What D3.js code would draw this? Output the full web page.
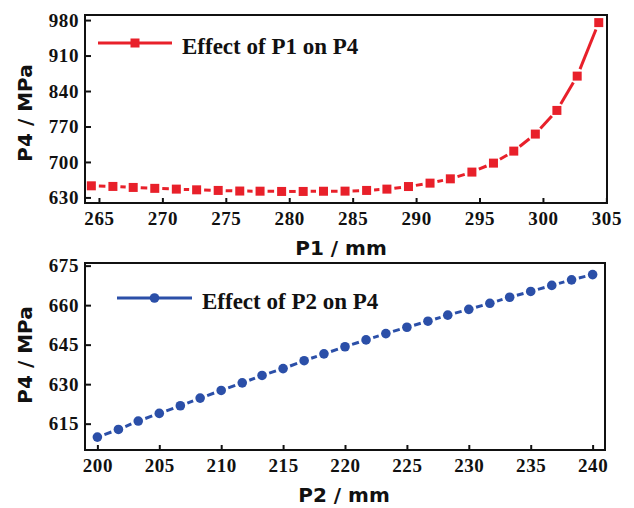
<!DOCTYPE html>
<html>
<head>
<meta charset="utf-8">
<script src="https://cdn.jsdelivr.net/npm/d3@7"></script>
<style>
  body { margin: 0; background: #fff; }
  svg { display: block; }
</style>
</head>
<body>
<svg width="634" height="508"></svg>
<script>
// panel 1 : effect of P1 on P4
const p1Values = [264.4, 266.1, 267.7, 269.4, 271.1, 272.7, 274.4, 276.1, 277.7, 279.4, 281.1, 282.7, 284.4,
  286.1, 287.7, 289.4, 291.1, 292.7, 294.4, 296.1, 297.7, 299.4, 301.1, 302.7, 304.4];
const p4FromP1 = [652.9, 651.7, 649.7, 647.9, 646.4, 645.0, 643.8, 642.6, 642.3, 641.8, 641.8, 642.2, 642.4,
  643.8, 646.4, 651.5, 658.2, 666.7, 680.0, 697.7, 721.4, 755.0, 801.7, 869.4, 975.0];
const p1Ticks = [265, 270, 275, 280, 285, 290, 295, 300, 305];
const p4TicksTop = [630, 700, 770, 840, 910, 980];

// panel 2 : effect of P2 on P4
const p2Values = [200, 201.7, 203.3, 205, 206.7, 208.3, 210, 211.7, 213.3, 215, 216.7, 218.3, 220,
  221.7, 223.3, 225, 226.7, 228.3, 230, 231.7, 233.3, 235, 236.7, 238.3, 240];
const p4FromP2 = [609.9, 612.8, 616.0, 618.9, 621.8, 624.7, 627.6, 630.5, 633.3, 635.9, 638.9, 641.5, 644.2,
  646.8, 649.2, 651.6, 653.9, 656.2, 658.4, 660.7, 663.0, 665.2, 667.5, 669.6, 671.6];
const p2Ticks = [200, 205, 210, 215, 220, 225, 230, 235, 240];
const p4TicksBottom = [615, 630, 645, 660, 675];

const svg = d3.select('svg');

function drawPanel(cfg) {
  const x = d3.scaleLinear().domain(cfg.xDomain).range([cfg.left, cfg.right]);
  const y = d3.scaleLinear().domain(cfg.yDomain).range([cfg.bottom, cfg.top]);
  const data = cfg.xs.map((v, i) => ({ x: v, y: cfg.ys[i] }));
  const g = svg.append('g');

  // line segments with a gap next to each symbol (Origin style)
  const gap = 7.5;
  const segs = [];
  for (let i = 0; i < data.length - 1; i++) {
    const x0 = x(data[i].x), y0 = y(data[i].y);
    const x1 = x(data[i + 1].x), y1 = y(data[i + 1].y);
    const len = Math.hypot(x1 - x0, y1 - y0);
    if (len <= gap * 2) continue;
    const ux = (x1 - x0) / len, uy = (y1 - y0) / len;
    segs.push([x0 + ux * gap, y0 + uy * gap, x1 - ux * gap, y1 - uy * gap]);
  }
  g.selectAll('line.seg')
    .data(segs)
    .enter().append('line')
      .attr('class', 'seg')
      .attr('x1', d => d[0]).attr('y1', d => d[1])
      .attr('x2', d => d[2]).attr('y2', d => d[3])
      .style('stroke', cfg.color)
      .style('stroke-width', 3);

  // symbols
  if (cfg.symbol === 'square') {
    g.selectAll('rect.pt')
      .data(data)
      .enter().append('rect')
        .attr('class', 'pt')
        .attr('x', d => x(d.x) - 4.5)
        .attr('y', d => y(d.y) - 4.5)
        .attr('width', 9)
        .attr('height', 9)
        .style('fill', cfg.color);
  } else {
    g.selectAll('circle.pt')
      .data(data)
      .enter().append('circle')
        .attr('class', 'pt')
        .attr('cx', d => x(d.x))
        .attr('cy', d => y(d.y))
        .attr('r', 4.8)
        .style('fill', cfg.color);
  }

  // axes, ticks pointing inward
  const xAxis = d3.axisBottom(x).tickValues(cfg.xTicks).tickSizeInner(-5).tickSizeOuter(0).tickPadding(9);
  const yAxis = d3.axisLeft(y).tickValues(cfg.yTicks).tickSizeInner(-6).tickSizeOuter(0).tickPadding(6);

  [
    g.append('g').attr('transform', 'translate(0,' + cfg.bottom + ')').call(xAxis),
    g.append('g').attr('transform', 'translate(' + cfg.left + ',0)').call(yAxis)
  ].forEach(a => {
    a.select('.domain').remove();
    a.selectAll('line').style('stroke', '#111').style('stroke-width', 2);
    a.selectAll('text')
      .style('font-family', '"Liberation Serif", "Times New Roman", serif')
      .style('font-weight', 'bold')
      .style('font-size', '19px')
      .style('letter-spacing', '0.6px')
      .style('fill', '#111');
  });

  // frame
  g.append('rect')
    .attr('x', cfg.left)
    .attr('y', cfg.top)
    .attr('width', cfg.right - cfg.left)
    .attr('height', cfg.bottom - cfg.top)
    .style('fill', 'none')
    .style('stroke', '#111')
    .style('stroke-width', 2);

  // axis titles
  g.append('text')
    .attr('x', cfg.xTitlePos[0])
    .attr('y', cfg.xTitlePos[1])
    .attr('text-anchor', 'middle')
    .style('font-family', '"DejaVu Sans", sans-serif')
    .style('font-weight', 'bold')
    .style('font-size', '20px')
    .style('fill', '#111')
    .text(cfg.xTitle);

  g.append('text')
    .attr('transform', `translate(${cfg.yTitlePos[0]},${cfg.yTitlePos[1]}) rotate(-90)`)
    .attr('text-anchor', 'middle')
    .attr('dy', '0.36em')
    .style('font-family', '"DejaVu Sans", sans-serif')
    .style('font-weight', 'bold')
    .style('font-size', '20px')
    .style('fill', '#111')
    .text(cfg.yTitle);

  // legend
  const lg = cfg.legend;
  g.append('line')
    .attr('x1', lg.x0).attr('x2', lg.x1)
    .attr('y1', lg.y).attr('y2', lg.y)
    .style('stroke', cfg.color)
    .style('stroke-width', 3);
  const mx = (lg.x0 + lg.x1) / 2;
  if (cfg.symbol === 'square') {
    g.append('rect')
      .attr('x', mx - 4.5).attr('y', lg.y - 4.5)
      .attr('width', 9).attr('height', 9)
      .style('fill', cfg.color);
  } else {
    g.append('circle')
      .attr('cx', mx).attr('cy', lg.y).attr('r', 4.8)
      .style('fill', cfg.color);
  }
  g.append('text')
    .attr('x', lg.x1 + 10)
    .attr('y', lg.y + 11)
    .style('font-family', '"Liberation Serif", "Times New Roman", serif')
    .style('font-weight', 'bold')
    .style('font-size', '23px')
    .style('fill', '#111')
    .text(lg.label);
}

drawPanel({
  xs: p1Values, ys: p4FromP1,
  xDomain: [263.9, 305.05], yDomain: [619, 990],
  xTicks: p1Ticks, yTicks: p4TicksTop,
  left: 85, right: 607, top: 15, bottom: 203,
  color: '#e8202a', symbol: 'square',
  xTitle: 'P1 / mm', xTitlePos: [341, 255],
  yTitle: 'P4 / MPa', yTitlePos: [25, 113],
  legend: { x0: 98, x1: 172, y: 43, label: 'Effect of P1 on P4' }
});

drawPanel({
  xs: p2Values, ys: p4FromP2,
  xDomain: [199, 241], yDomain: [605, 676],
  xTicks: p2Ticks, yTicks: p4TicksBottom,
  left: 85, right: 605, top: 263, bottom: 450,
  color: '#2b4fa8', symbol: 'circle',
  xTitle: 'P2 / mm', xTitlePos: [344, 502],
  yTitle: 'P4 / MPa', yTitlePos: [25, 355],
  legend: { x0: 117, x1: 192, y: 298, label: 'Effect of P2 on P4' }
});
</script>
</body>
</html>
